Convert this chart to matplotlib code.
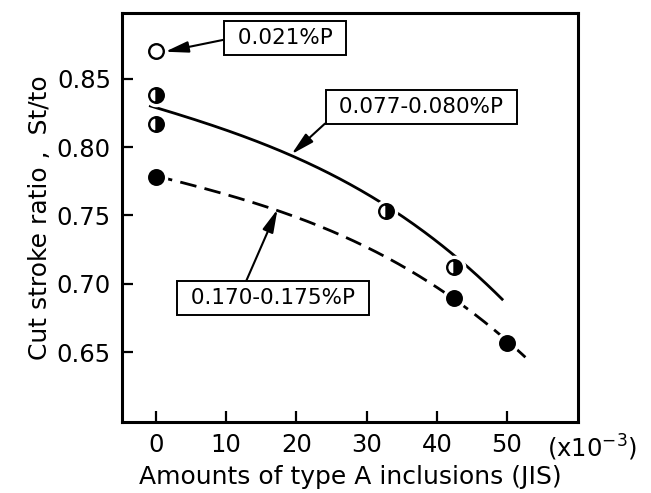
import numpy as np
import matplotlib
matplotlib.use("Agg")
import matplotlib.pyplot as plt

# measured points
x_low_p = [0]
y_low_p = [0.870]

x_mid_p = [0, 0, 32.8, 42.5]
y_mid_p = [0.838, 0.817, 0.753, 0.712]

x_high_p = [0, 42.5, 50]
y_high_p = [0.778, 0.690, 0.657]

# hand-drawn trend curves
x_mid_curve = [-0.8, 5, 10, 15, 20, 25, 30, 33, 35, 40, 42.5, 45, 49.3]
y_mid_curve = [0.830, 0.821, 0.812, 0.803, 0.793, 0.780, 0.765, 0.756, 0.749, 0.731, 0.722, 0.710, 0.688]

x_high_curve = [0, 5, 10, 15, 20, 25, 30, 35, 40, 42.5, 45, 50, 52.9]
y_high_curve = [0.778, 0.773, 0.766, 0.758, 0.749, 0.738, 0.725, 0.712, 0.698, 0.690, 0.681, 0.658, 0.644]

x_ticks = [0, 10, 20, 30, 40, 50]
y_ticks = [0.65, 0.70, 0.75, 0.80, 0.85]
y_ticklabels = ["0.65", "0.70", "0.75", "0.80", "0.85"]


def smooth(xs, ys, deg=3):
    # smooth the hand-read curve with a low order fit
    coef = np.polyfit(xs, ys, deg)
    xx = np.linspace(xs[0], xs[-1], 200)
    return xx, np.polyval(coef, xx)


plt.rcParams['font.family'] = ['DejaVu Sans']

fig = plt.figure(figsize=(6.51, 4.93), dpi=100)
ax = fig.add_axes([0.1874, 0.144, 0.7004, 0.8296])

xm, ym = smooth(x_mid_curve, y_mid_curve)
xh, yh = smooth(x_high_curve, y_high_curve)
ax.plot(xm, ym, color='black', lw=2.0, zorder=2)
ax.plot(xh, yh, color='black', lw=2.0, dashes=(6, 3), zorder=2)

# white halo so the curves break around the symbols
all_x = x_low_p + x_mid_p + x_high_p
all_y = y_low_p + y_mid_p + y_high_p
ax.plot(all_x, all_y, 'o', ms=17, mfc='white', mec='none', zorder=3)

ax.plot(x_low_p, y_low_p, 'o', ms=10.5, mfc='white', mec='black', mew=1.7, zorder=4)
ax.plot(x_mid_p, y_mid_p, 'o', ms=10.5, fillstyle='right', mfc='black',
        markerfacecoloralt='white', mec='black', mew=1.7, zorder=4)
ax.plot(x_high_p, y_high_p, 'o', ms=10.5, mfc='black', mec='black', mew=1.7, zorder=4)

box = dict(boxstyle='square,pad=0.32', fc='white', ec='black', lw=1.4)
arrow = dict(arrowstyle='-|>,head_length=0.9,head_width=0.22', color='black',
             lw=1.5, shrinkA=0, shrinkB=0)

ax.annotate(" 0.021%P ", xy=(1.3, 0.8697), xytext=(18.4, 0.8795),
            fontsize=15.5, ha='center', va='center', bbox=box,
            arrowprops=dict(arrow, relpos=(0.0, 0.5)), zorder=5)
ax.annotate(" 0.077-0.080%P ", xy=(19.3, 0.7948), xytext=(37.8, 0.8295),
            fontsize=15.5, ha='center', va='center', bbox=box,
            arrowprops=dict(arrow, relpos=(0.0, 0.0)), zorder=5)
ax.annotate(" 0.170-0.175%P ", xy=(17.3, 0.7545), xytext=(16.7, 0.6895),
            fontsize=15.5, ha='center', va='center', bbox=box,
            arrowprops=dict(arrow, relpos=(0.33, 1.0)), zorder=5)

ax.set_xlim(-4.85, 60.1)
ax.set_ylim(0.599, 0.898)
ax.set_xticks(x_ticks)
ax.set_yticks(y_ticks)
ax.set_yticklabels(y_ticklabels)
ax.tick_params(direction='in', length=8, width=1.6, labelsize=17.5, pad=8)
for sp in ax.spines.values():
    sp.set_linewidth(2.2)

ax.set_xlabel("Amounts of type A inclusions (JIS)", fontsize=18, labelpad=6)
ax.set_ylabel("Cut stroke ratio ,  St/to", fontsize=18, labelpad=3)

ax.text(0.932, -0.026, r"(x10$^{-3}$)", transform=ax.transAxes, fontsize=17.5,
        ha='left', va='top', clip_on=False)

fig.savefig("out.png", dpi=100)
